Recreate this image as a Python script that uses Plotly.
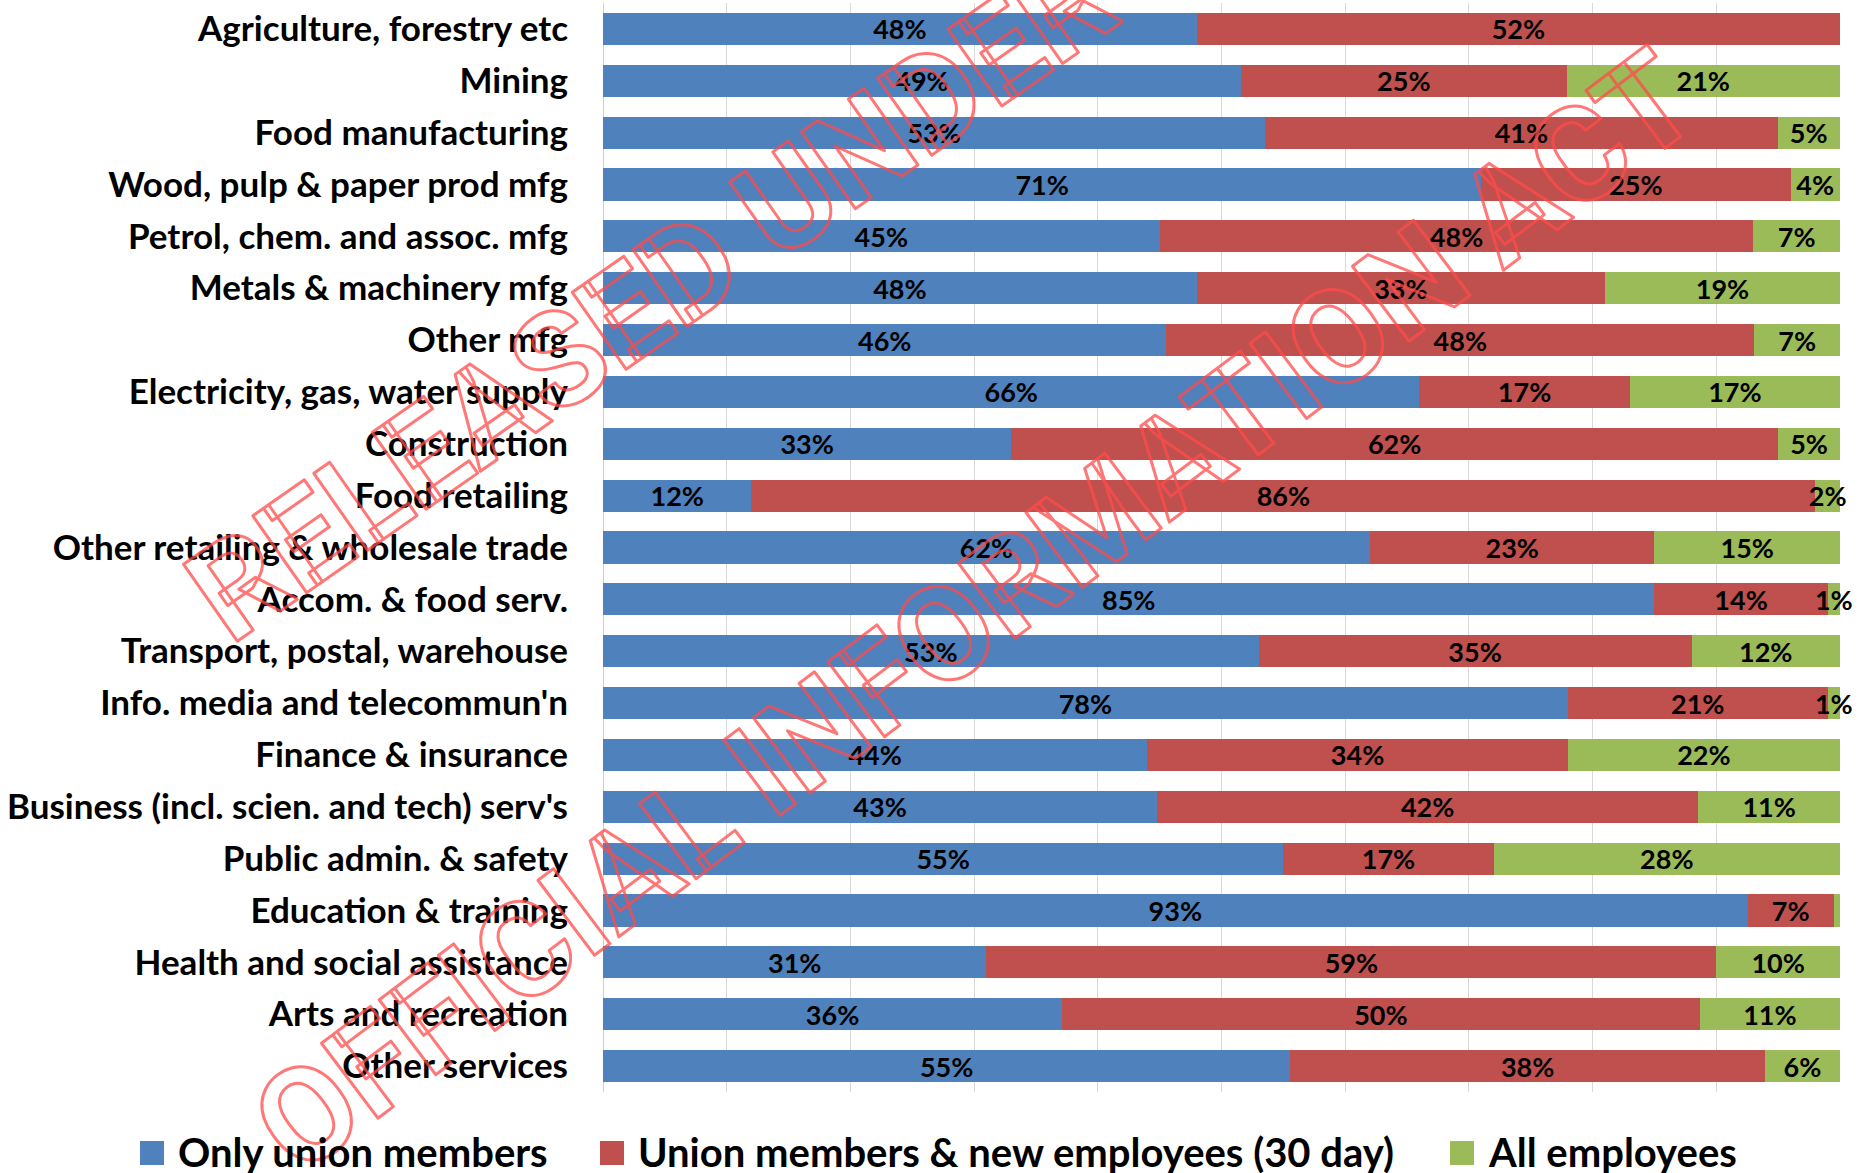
import plotly.graph_objects as go

# Industry categories, top to bottom
categories = [
    "Agriculture, forestry etc",
    "Mining",
    "Food manufacturing",
    "Wood, pulp & paper prod mfg",
    "Petrol, chem. and assoc. mfg",
    "Metals & machinery mfg",
    "Other mfg",
    "Electricity, gas, water supply",
    "Construction",
    "Food retailing",
    "Other retailing & wholesale trade",
    "Accom. & food serv.",
    "Transport, postal, warehouse",
    "Info. media and telecommun'n",
    "Finance & insurance",
    "Business (incl. scien. and tech) serv's",
    "Public admin. & safety",
    "Education & training",
    "Health and social assistance",
    "Arts and recreation",
    "Other services",
]

series_names = [
    "Only union members",
    "Union members & new employees (30 day)",
    "All employees",
]

only_union = [48, 49, 53, 71, 45, 48, 46, 66, 33, 12, 62, 85, 53, 78, 44, 43, 55, 93, 31, 36, 55]
union_new = [52, 25, 41, 25, 48, 33, 48, 17, 62, 86, 23, 14, 35, 21, 34, 42, 17, 7, 59, 50, 38]
all_emp = [0, 21, 5, 4, 7, 19, 7, 17, 5, 2, 15, 1, 12, 1, 22, 11, 28, 0.5, 10, 11, 6]

colors = ["#4F81BD", "#C0504D", "#9BBB59"]
watermark_lines = ["RELEASED UNDER", "OFFICIAL INFORMATION ACT"]

W, H = 1860, 1173
ML, MR, MT, MB = 603, 20, 3, 81
PW, PH = W - ML - MR, H - MT - MB


def px_x(x):
    return (x - ML) / PW


def px_y(y):
    return (H - MB - y) / PH


def pct_labels(vals):
    return [f"{v:g}%" if v >= 1 else "" for v in vals]


label_font = dict(family="Lato", size=27, color="black", weight=700)

fig = go.Figure()
for name, vals, col in zip(series_names, [only_union, union_new, all_emp], colors):
    fig.add_trace(go.Bar(
        y=categories, x=vals, name=name, orientation="h",
        marker=dict(color=col, line=dict(width=0)),
        text=pct_labels(vals), textposition="inside", insidetextanchor="middle",
        textangle=0, textfont=label_font, constraintext="none",
        cliponaxis=False, showlegend=False, hoverinfo="skip",
    ))

wm_font = dict(family="Roboto", size=132, color="#ff5a5a", weight=700)
annotations = [
    dict(text=watermark_lines[0], xref="paper", yref="paper",
         x=px_x(652), y=px_y(296), xanchor="center", yanchor="middle",
         textangle=-35, showarrow=False, font=wm_font),
    dict(text=watermark_lines[1], xref="paper", yref="paper",
         x=px_x(975), y=px_y(612), xanchor="center", yanchor="middle",
         textangle=-37, showarrow=False, font=wm_font),
]

shapes = []
legend_sq = [(140, 164), (600, 624), (1450, 1474)]
legend_tx = [176, 636, 1486]
for (x0, x1), tx, name, col in zip(legend_sq, legend_tx, series_names, colors):
    shapes.append(dict(type="rect", xref="paper", yref="paper",
                       x0=px_x(x0), x1=px_x(x1), y0=px_y(1165), y1=px_y(1141),
                       fillcolor=col, line=dict(width=0)))
    annotations.append(dict(text=name, xref="paper", yref="paper",
                            x=px_x(tx), y=px_y(1152), xanchor="left", yanchor="middle",
                            showarrow=False,
                            font=dict(family="Lato", size=40, color="black", weight=700)))

fig.update_layout(
    width=W, height=H,
    margin=dict(l=ML, r=MR, t=MT, b=MB, pad=0),
    barmode="stack", barnorm="percent", bargap=0.38,
    plot_bgcolor="white", paper_bgcolor="white",
    uniformtext=dict(mode="show", minsize=27),
    xaxis=dict(range=[0, 100.0005], tick0=0, dtick=10, showticklabels=False, showgrid=True,
               gridcolor="#D9D9D9", gridwidth=1, zeroline=True,
               zerolinecolor="#CFCFCF", zerolinewidth=1, showline=False, fixedrange=True),
    yaxis=dict(autorange="reversed", showgrid=False, showline=False, ticks="",
               ticklabelstandoff=34,
               tickfont=dict(family="Lato", size=35, color="black", weight=700)),
    annotations=annotations, shapes=shapes, showlegend=False,
)

outline_js = """
var gd = document.getElementById('{plot_id}');
function outlineWatermark(){
  var items = gd.querySelectorAll('g.annotation');
  for (var i = 0; i < 2 && i < items.length; i++) {
    var t = items[i].querySelector('text.annotation-text');
    if (t) {
      t.style.fill = 'none';
      t.style.stroke = 'rgba(255,75,75,0.75)';
      t.style.strokeWidth = '3px';
      t.style.strokeLinejoin = 'round';
    }
  }
}
outlineWatermark();
gd.on('plotly_afterplot', outlineWatermark);
"""

fig.write_html("out.html", post_script=outline_js)
